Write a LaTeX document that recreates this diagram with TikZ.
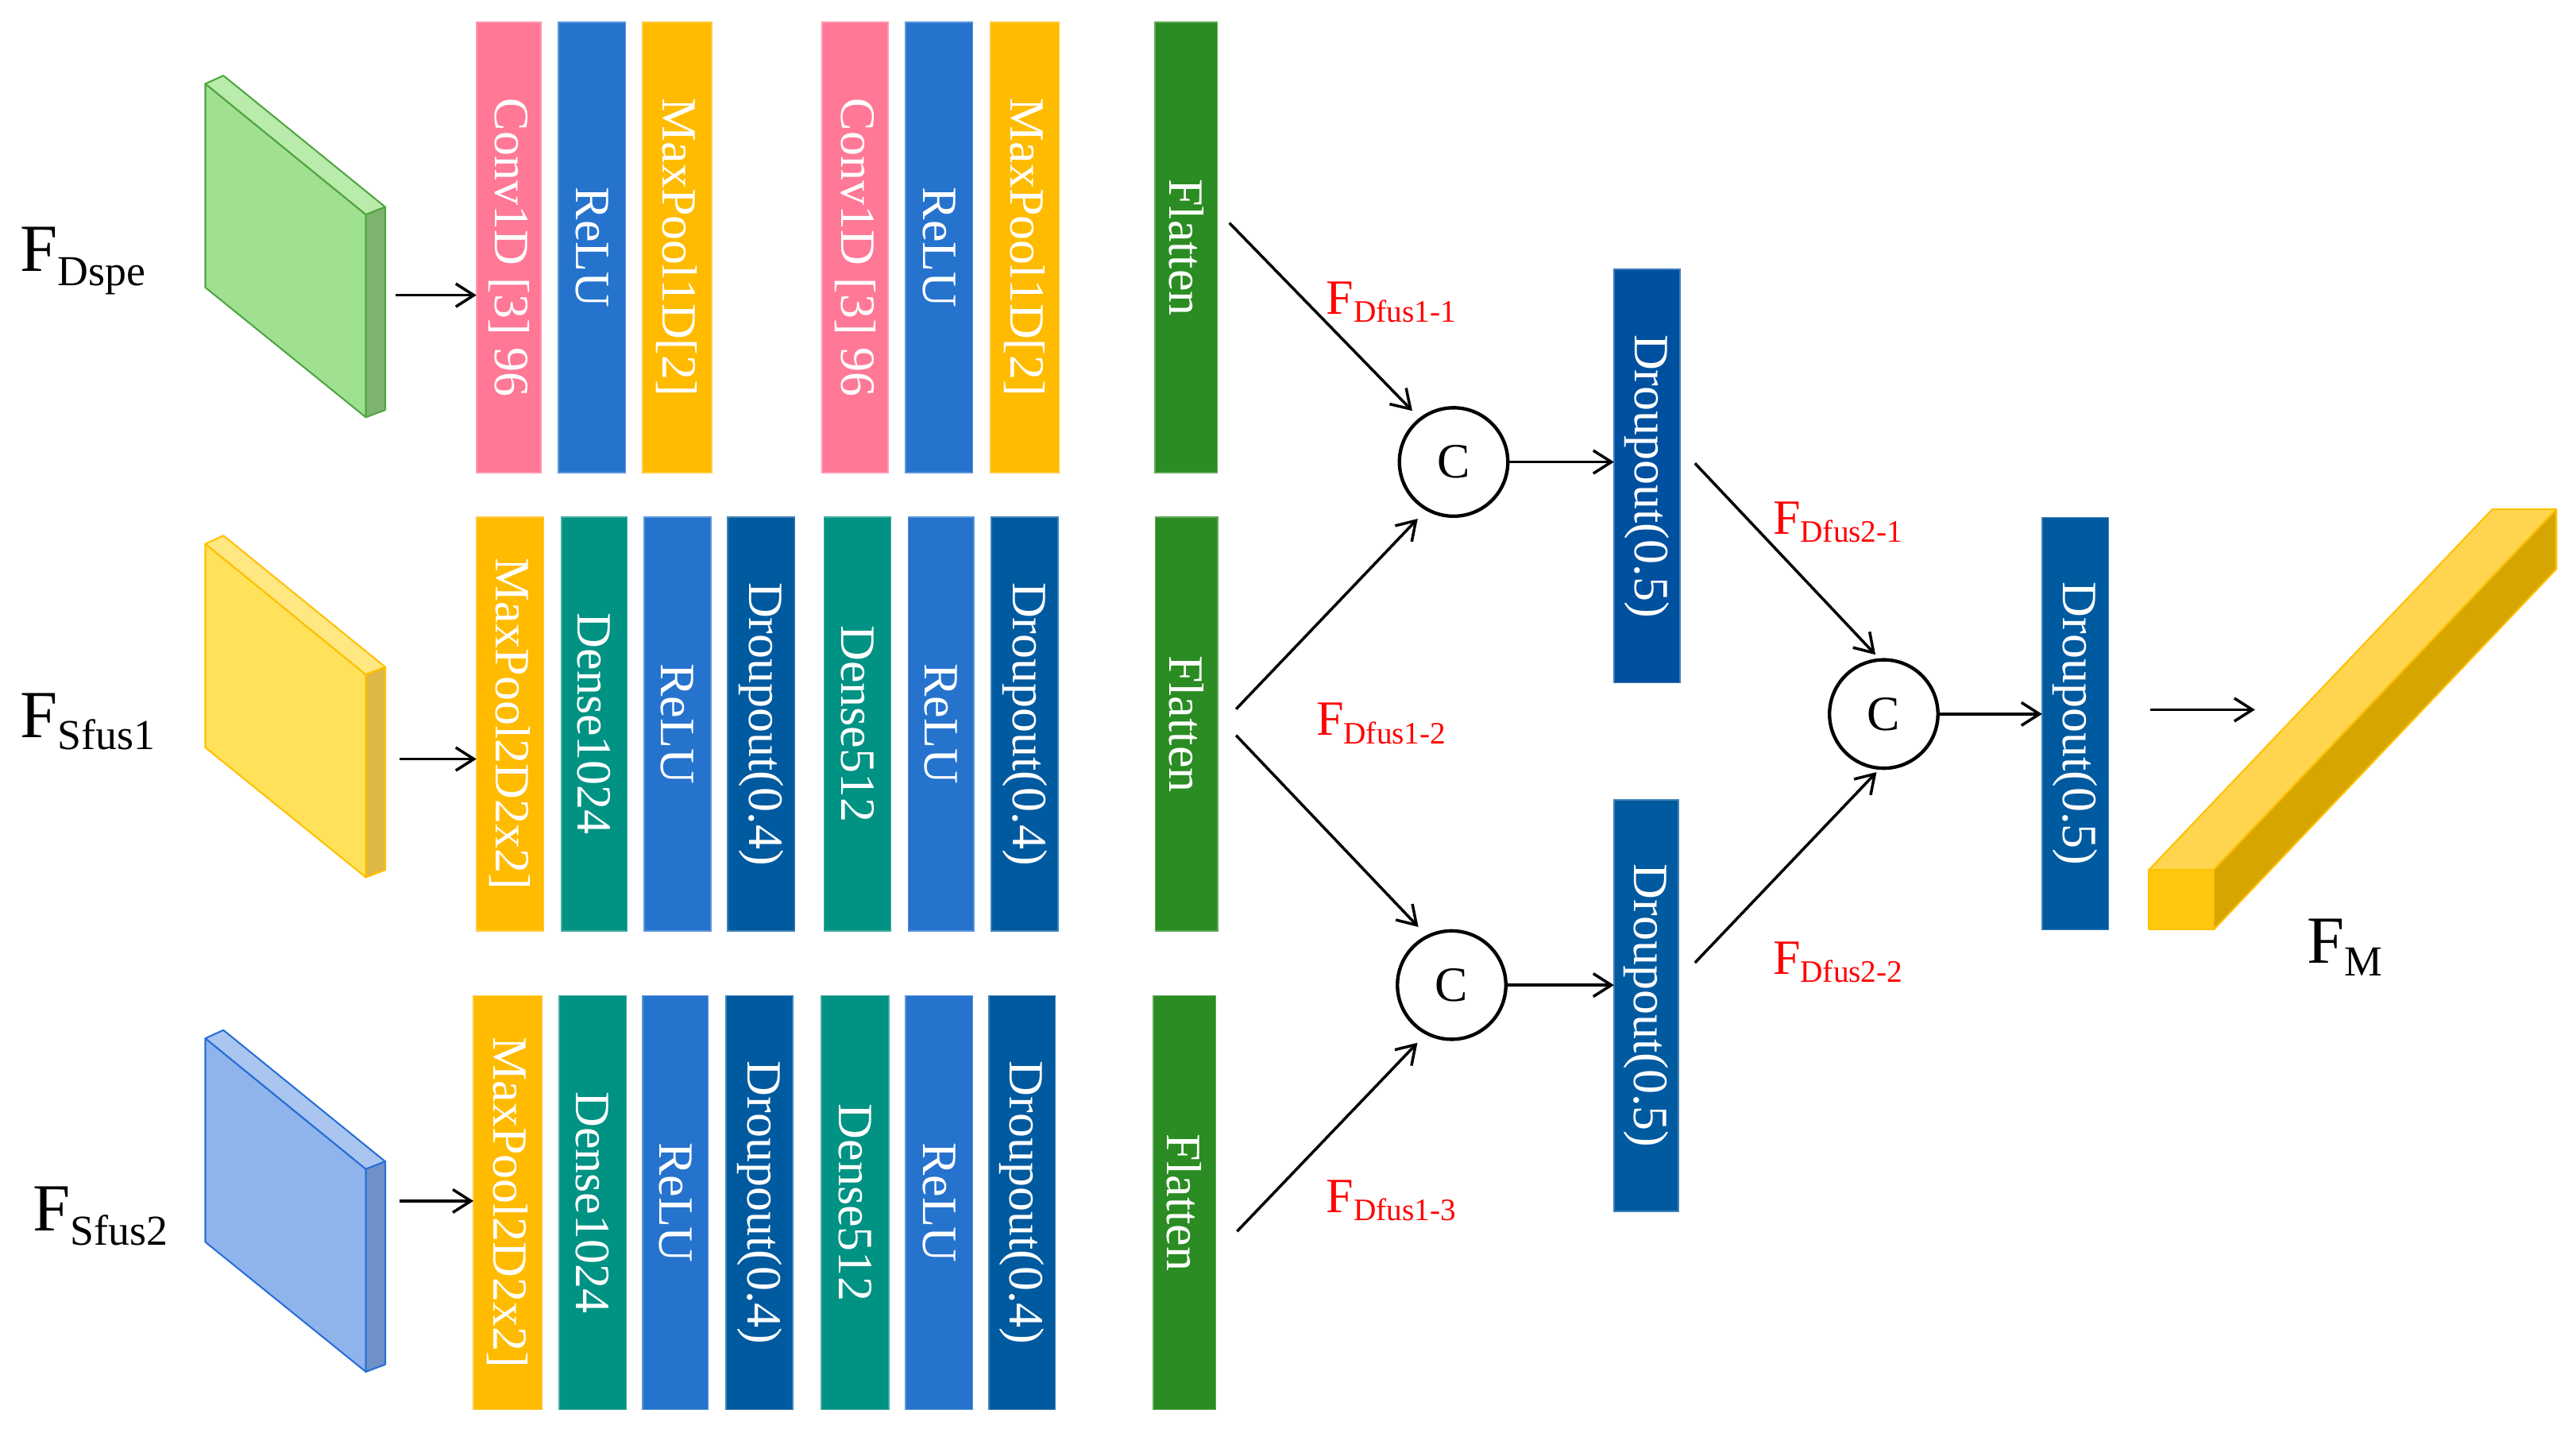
\documentclass[tikz,border=0pt]{standalone}
\usepackage{fontspec}
\setmainfont{Liberation Serif}
\usetikzlibrary{arrows.meta,calc}
\definecolor{cpink}{RGB}{255,120,150}
\definecolor{crelu}{RGB}{38,115,206}
\definecolor{cpool}{RGB}{255,187,0}
\definecolor{cdense}{RGB}{0,146,131}
\definecolor{cdrop}{RGB}{0,90,160}
\definecolor{cdropb}{RGB}{0,80,160}
\definecolor{cflat}{RGB}{42,140,34}
\definecolor{gfront}{RGB}{160,224,145}
\definecolor{gtop}{RGB}{185,235,170}
\definecolor{gside}{RGB}{125,180,110}
\definecolor{gedge}{RGB}{80,165,65}
\definecolor{yfront}{RGB}{255,226,90}
\definecolor{ytop}{RGB}{255,232,130}
\definecolor{yside}{RGB}{222,184,70}
\definecolor{yedge}{RGB}{255,192,0}
\definecolor{bfront}{RGB}{143,180,236}
\definecolor{btop}{RGB}{170,198,240}
\definecolor{bside}{RGB}{110,145,200}
\definecolor{bedge}{RGB}{40,110,215}
\definecolor{mfront}{RGB}{255,200,15}
\definecolor{mtop}{RGB}{255,213,80}
\definecolor{mside}{RGB}{215,165,0}
\definecolor{medge}{RGB}{255,192,0}
\newcommand\lyr[7]{\node[lay, fill=#2, draw=#2!75!white, minimum width=#5pt, minimum height=#7pt, label={[bartxt]center:{#3}}] (#1) at (#4,#6) {};}
\newcommand\slab[5]{%
  \begin{scope}[shift={(0,#1)}]
    \filldraw[fill=#2, draw=#5, line width=1pt, line join=round] (125,51) -- (222.7,130.6) -- (222.7,254) -- (125,175) -- cycle;
    \filldraw[fill=#3, draw=#5, line width=1pt, line join=round] (125,51) -- (136,46) -- (234.5,126) -- (222.7,130.6) -- cycle;
    \filldraw[fill=#4, draw=#5, line width=1pt, line join=round] (222.7,130.6) -- (234.5,126) -- (234.5,249.5) -- (222.7,254) -- cycle;
  \end{scope}}
\begin{document}
\begin{tikzpicture}[x=1pt,y=-1pt,
  lay/.style={rectangle, inner sep=0pt, outer sep=0pt, line width=0.8pt},
  bartxt/.style={rotate=-90, text=white, inner sep=0pt, font=\fontsize{30}{30}\selectfont},
  arr/.style={-{Straight Barb[length=11pt,width=14pt]}, line width=1.7pt},
  cat/.style={circle, draw=black, fill=white, line width=2.1pt, minimum size=66pt, inner sep=0pt, font=\fontsize{30}{30}\selectfont},
  redlab/.style={text=red, inner sep=0pt, anchor=base west},
  biglab/.style={inner sep=0pt, anchor=base west}]
\useasboundingbox (0,0) rectangle (1568,872);

% input slabs
\slab{0}{gfront}{gtop}{gside}{gedge}
\slab{280}{yfront}{ytop}{yside}{yedge}
\slab{581}{bfront}{btop}{bside}{bedge}

% row 1
\lyr{c1a}{cpink}{Conv1D [3] 96}{309.7}{39.4}{150.6}{274.4}
\lyr{r1a}{crelu}{ReLU}{360.4}{40.8}{150.6}{274.4}
\lyr{m1a}{cpool}{MaxPool1D[2]}{412.1}{42.2}{150.6}{274.4}
\lyr{c1b}{cpink}{Conv1D [3] 96}{520.5}{40.2}{150.6}{274.4}
\lyr{r1b}{crelu}{ReLU}{571.65}{40.7}{150.6}{274.4}
\lyr{m1b}{cpool}{MaxPool1D[2]}{623.8}{42}{150.6}{274.4}
\lyr{fl1}{cflat}{Flatten}{722}{38}{150.6}{274.4}

% row 2
\lyr{m2}{cpool}{MaxPool2D2x2]}{310.5}{41}{440.65}{252.1}
\lyr{d2a}{cdense}{Dense1024}{361.7}{40}{440.65}{252.1}
\lyr{r2a}{crelu}{ReLU}{412.3}{40.6}{440.65}{252.1}
\lyr{o2a}{cdrop}{Droupout(0.4)}{463.35}{40.7}{440.65}{252.1}
\lyr{d2b}{cdense}{Dense512}{521.9}{40.6}{440.65}{252.1}
\lyr{r2b}{crelu}{ReLU}{572.75}{39.9}{440.65}{252.1}
\lyr{o2b}{cdrop}{Droupout(0.4)}{623.7}{40.6}{440.65}{252.1}
\lyr{fl2}{cflat}{Flatten}{722.3}{38}{440.65}{252.1}

% row 3
\lyr{m3}{cpool}{MaxPool2D2x2]}{309.1}{41.8}{732}{252}
\lyr{d3a}{cdense}{Dense1024}{360.8}{40.8}{732}{252}
\lyr{r3a}{crelu}{ReLU}{411}{40}{732}{252}
\lyr{o3a}{cdrop}{Droupout(0.4)}{462.3}{40.6}{732}{252}
\lyr{d3b}{cdense}{Dense512}{520.5}{41}{732}{252}
\lyr{r3b}{crelu}{ReLU}{571.6}{40.8}{732}{252}
\lyr{o3b}{cdrop}{Droupout(0.4)}{622.2}{40.4}{732}{252}
\lyr{fl3}{cflat}{Flatten}{721}{38}{732}{252}

% fusion stage
\lyr{D1}{cdropb}{Droupout(0.5)}{1002.45}{40.1}{289.8}{251.6}
\lyr{D2}{cdrop}{Droupout(0.5)}{1002}{39.2}{612.2}{250.4}
\lyr{D3}{cdrop}{Droupout(0.5)}{1263.25}{40.5}{440.5}{251}

\node[cat] (C1) at (884.8,281.2) {C};
\node[cat] (C2) at (883.6,599.6) {C};
\node[cat] (C3) at (1146.6,434.6) {C};

% output bar
\filldraw[fill=mfront, draw=medge, line width=1pt, line join=round] (1308,529.5) rectangle (1347.4,565.9);
\filldraw[fill=mtop, draw=medge, line width=1pt, line join=round] (1308,529.5) -- (1517,310) -- (1556,310) -- (1347.4,529.5) -- cycle;
\filldraw[fill=mside, draw=medge, line width=1pt, line join=round] (1347.4,529.5) -- (1556,310) -- (1556,346.4) -- (1347.4,565.9) -- cycle;

% arrows
\coordinate (s1) at (241,179.7);
\coordinate (s2) at (243,462);
\coordinate (s3) at (243,731);
\draw[arr] (s1) -- (s1 -| c1a.west);
\draw[arr] (s2) -- (s2 -| m2.west);
\draw[arr] (s3) -- (s3 -| m3.west);

\coordinate (f1) at (748.3,135.7);
\coordinate (f2a) at (752.4,431.6);
\coordinate (f2b) at (752.4,447.6);
\coordinate (f3) at (753,749.5);
\draw[arr, shorten >=6pt] (f1) -- (C1.128);
\draw[arr, shorten >=7pt] (f2a) -- (C1.240);
\draw[arr, shorten >=7pt] (f2b) -- (C2.117);
\draw[arr, shorten >=7pt] (f3) -- (C2.242);

\draw[arr] (C1.east) -- (C1.east -| D1.west);
\draw[arr] (C2.east) -- (C2.east -| D2.west);

\coordinate (g1) at (1031.7,282);
\coordinate (g2) at (1031.7,586);
\draw[arr, shorten >=3pt] (g1) -- (C3.95);
\draw[arr, shorten >=2pt] (g2) -- (C3.265);

\draw[arr] (C3.east) -- (C3.east -| D3.west);

\coordinate (o1) at (1309,432);
\coordinate (o2) at (1372.6,432);
\draw[arr] (o1) -- (o2);

% labels
\node[biglab] (lDspe) at (12,165) {{\fontsize{41}{41}\selectfont F}\raisebox{-9pt}{\fontsize{26}{26}\selectfont Dspe}};
\node[biglab] (lS1) at (12,449) {{\fontsize{41}{41}\selectfont F}\raisebox{-7pt}{\fontsize{26}{26}\selectfont Sfus1}};
\node[biglab] (lS2) at (20,749) {{\fontsize{41}{41}\selectfont F}\raisebox{-9pt}{\fontsize{26}{26}\selectfont Sfus2}};
\node[biglab] (lM) at (1404,586) {{\fontsize{41}{41}\selectfont F}\raisebox{-8pt}{\fontsize{26}{26}\selectfont M}};

\node[redlab] (l11) at (807,191) {{\fontsize{30}{30}\selectfont F}\raisebox{-5pt}{\fontsize{19}{19}\selectfont Dfus1-1}};
\node[redlab] (l12) at (801,447.7) {{\fontsize{30}{30}\selectfont F}\raisebox{-5pt}{\fontsize{19}{19}\selectfont Dfus1-2}};
\node[redlab] (l13) at (807,738) {{\fontsize{30}{30}\selectfont F}\raisebox{-5pt}{\fontsize{19}{19}\selectfont Dfus1-3}};
\node[redlab] (l21) at (1079,325) {{\fontsize{30}{30}\selectfont F}\raisebox{-5pt}{\fontsize{19}{19}\selectfont Dfus2-1}};
\node[redlab] (l22) at (1079,593) {{\fontsize{30}{30}\selectfont F}\raisebox{-5pt}{\fontsize{19}{19}\selectfont Dfus2-2}};
\end{tikzpicture}
\end{document}
